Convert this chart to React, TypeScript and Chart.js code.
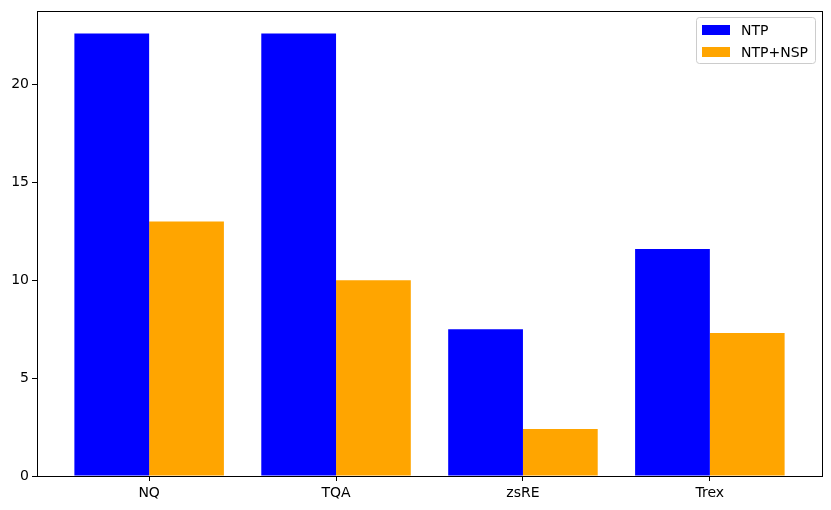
import React, { useEffect, useRef } from "react";
import { Chart, registerables } from "chart.js";

Chart.register(...registerables);

const categories = ["NQ", "TQA", "zsRE", "Trex"];
const ntpValues = [22.6, 22.6, 7.5, 11.6];
const ntpNspValues = [13.0, 10.0, 2.4, 7.3];
const seriesLabels = ["NTP", "NTP+NSP"];
const seriesColors = ["#0000ff", "#ffa500"];
const yTicks = [0, 5, 10, 15, 20];

const FONT = "'DejaVu Sans', sans-serif";

const framePlugin = {
  id: "frame",
  afterDraw(chart: any) {
    const { ctx, chartArea } = chart;
    const { left, top, right, bottom } = chartArea;
    ctx.save();
    ctx.strokeStyle = "#000";
    ctx.lineWidth = 1;
    ctx.strokeRect(Math.round(left) + 0.5, Math.round(top) + 0.5, Math.round(right - left), Math.round(bottom - top));
    // legend
    const lw = 119, lh = 46;
    const lx = Math.round(right) - 7 - lw;
    const ly = Math.round(top) + 6;
    ctx.fillStyle = "rgba(255,255,255,0.8)";
    ctx.strokeStyle = "#cccccc";
    ctx.lineWidth = 1;
    ctx.beginPath();
    (ctx as any).roundRect(lx + 0.5, ly + 0.5, lw, lh, 3);
    ctx.fill();
    ctx.stroke();
    ctx.font = `14px ${FONT}`;
    ctx.textBaseline = "middle";
    seriesLabels.forEach((lab, i) => {
      const cy = ly + 13 + i * 22;
      ctx.fillStyle = seriesColors[i];
      ctx.fillRect(lx + 6, cy - 5, 28, 10);
      ctx.fillStyle = "#000";
      ctx.fillText(lab, lx + 45, cy + 1);
    });
    ctx.restore();
  },
};

export default function App() {
  const ref = useRef<HTMLCanvasElement>(null);
  useEffect(() => {
    if (!ref.current) return;
    const chart = new Chart(ref.current, {
      type: "bar",
      data: {
        datasets: [
          {
            label: seriesLabels[0],
            data: ntpValues.map((v, i) => ({ x: i, y: v })),
            backgroundColor: seriesColors[0],
            categoryPercentage: 0.8,
            barPercentage: 1.0,
          },
          {
            label: seriesLabels[1],
            data: ntpNspValues.map((v, i) => ({ x: i, y: v })),
            backgroundColor: seriesColors[1],
            categoryPercentage: 0.8,
            barPercentage: 1.0,
          },
        ],
      },
      options: {
        animation: false,
        responsive: false,
        maintainAspectRatio: false,
        layout: { padding: { left: 0, top: 10, right: 9, bottom: 0 } },
        plugins: { legend: { display: false }, tooltip: { enabled: false } },
        scales: {
          x: {
            type: "linear",
            min: -0.6,
            max: 3.6,
            offset: false,
            grid: { drawOnChartArea: false, offset: false, color: "#000", tickLength: 5, tickColor: "#000" },
            border: { display: false },
            afterBuildTicks: (s: any) => {
              s.ticks = categories.map((_, i) => ({ value: i }));
            },
            afterFit: (s: any) => {
              s.height = 34;
            },
            ticks: {
              color: "#000",
              font: { family: FONT, size: 14 },
              padding: 4,
              maxRotation: 0,
              autoSkip: false,
              callback: (v: any) => categories[Math.round(Number(v))] ?? "",
            },
          },
          y: {
            type: "linear",
            min: 0,
            max: 23.73,
            grid: { drawOnChartArea: false, color: "#000", tickLength: 5, tickColor: "#000" },
            border: { display: false },
            afterBuildTicks: (s: any) => {
              s.ticks = yTicks.map((v) => ({ value: v }));
            },
            afterFit: (s: any) => {
              s.width = 37;
            },
            ticks: {
              color: "#000",
              font: { family: FONT, size: 14 },
              padding: 3,
              callback: (v: any) => String(v),
            },
          },
        },
      },
      plugins: [framePlugin],
    } as any);
    return () => chart.destroy();
  }, []);
  return (
    <div style={{ position: "absolute", left: 0, top: 0, width: 831, height: 510, background: "#fff" }}>
      <canvas ref={ref} width={831} height={510} style={{ width: 831, height: 510 }} />
    </div>
  );
}
